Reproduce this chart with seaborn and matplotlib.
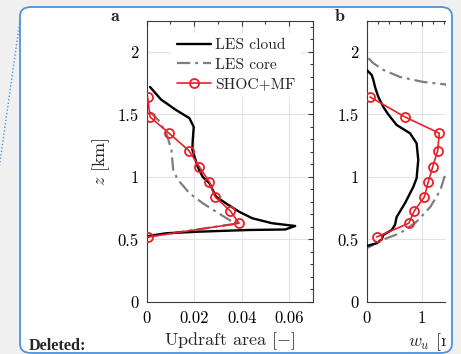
import numpy as np
import pandas as pd
import matplotlib
matplotlib.use("Agg")
import matplotlib.pyplot as plt
import seaborn as sns
from matplotlib.patches import FancyBboxPatch, Rectangle
from matplotlib.lines import Line2D
from matplotlib.ticker import MultipleLocator, FuncFormatter

# ---------------- data ----------------
# panel a: updraft area [-] vs height z [km]
a_cloud_x = [0.0014, 0.006, 0.012, 0.018, 0.0198, 0.0194, 0.0192, 0.0215, 0.0236, 0.0264,
             0.0292, 0.0333, 0.0389, 0.0444, 0.0528, 0.0625, 0.0583, 0.043, 0.022, 0.0083,
             0.0014, 0.0]
a_cloud_z = [1.72, 1.62, 1.54, 1.47, 1.40, 1.30, 1.22, 1.08, 1.00, 0.95,
             0.842, 0.79, 0.722, 0.67, 0.63, 0.608, 0.58, 0.576, 0.5625, 0.55,
             0.53, 0.52]
a_core_x = [0.0014, 0.0049, 0.0083, 0.0104, 0.0112, 0.0132, 0.018, 0.0236, 0.0292, 0.036,
            0.039, 0.0]
a_core_z = [1.52, 1.456, 1.35, 1.216, 1.05, 0.976, 0.87, 0.79, 0.722, 0.642,
            0.63, 0.52]
shoc_z = [1.64, 1.48, 1.35, 1.21, 1.08, 0.96, 0.84, 0.73, 0.63, 0.52]
a_shoc_x = [0.0004, 0.0014, 0.0094, 0.0178, 0.0222, 0.0264, 0.0288, 0.0351, 0.0389, 0.0004]

# panel b: updraft velocity w_u [m s-1] vs height z [km]
b_cloud_x = [0.0, 0.09, 0.12, 0.15, 0.21, 0.30, 0.39, 0.54, 0.78, 0.90, 0.93, 0.90,
             0.84, 0.69, 0.54, 0.51, 0.45, 0.30, 0.27, 0.18, 0.0]
b_cloud_z = [1.856, 1.816, 1.776, 1.72, 1.64, 1.56, 1.50, 1.416, 1.35, 1.27, 1.136, 0.99,
             0.92, 0.79, 0.68, 0.616, 0.576, 0.536, 0.50, 0.47, 0.448]
b_core_x = [0.03, 0.12, 0.30, 0.60, 1.02, 1.43, 1.60, 1.70, 1.65, 1.43, 1.33, 1.15, 0.90,
            0.60, 0.30, 0.0]
b_core_z = [1.95, 1.91, 1.856, 1.80, 1.76, 1.74, 1.60, 1.40, 1.20, 1.04, 0.896, 0.762, 0.642,
            0.55, 0.50, 0.43]
b_shoc_x = [0.06, 0.69, 1.31, 1.28, 1.19, 1.11, 1.04, 0.86, 0.76, 0.18]

labels = ["LES cloud", "LES core", "SHOC+MF"]

# ---------------- style ----------------
sns.set_theme(style="white")
plt.rcParams["font.family"] = ["cmr10"]
plt.rcParams["mathtext.fontset"] = "cm"
plt.rcParams["axes.unicode_minus"] = False
plt.rcParams["axes.formatter.use_mathtext"] = True

W, H = 461, 354
fig = plt.figure(figsize=(W / 100, H / 100), dpi=100)
fig.patch.set_facecolor("#f0f0f0")

def fx(px):
    return px / W

def fy(py):
    return 1 - py / H

# white comment box (background)
box = FancyBboxPatch((fx(20), fy(353)), fx(452) - fx(20), fy(7) - fy(353),
                     boxstyle="round,pad=0,rounding_size=0.025", transform=fig.transFigure,
                     facecolor="white", edgecolor="none", zorder=-5)
fig.add_artist(box)

ax_l, ax_w = 146.7, 166.3
ax_top, ax_bot = 20.7, 302.0
axa = fig.add_axes([fx(ax_l), fy(ax_bot), fx(ax_w), (ax_bot - ax_top) / H])
axb = fig.add_axes([fx(366.7), fy(ax_bot), fx(ax_w), (ax_bot - ax_top) / H])

black = "#000000"
gray = "#7f7f7f"
red = "#e8202a"
FS = 12
fmt = FuncFormatter(lambda v, p: f"{v:g}")

def draw(ax, cx, cz, kx, kz, sx):
    d1 = pd.DataFrame({"x": cx, "z": cz})
    d2 = pd.DataFrame({"x": kx, "z": kz})
    d3 = pd.DataFrame({"x": sx, "z": shoc_z})
    sns.lineplot(data=d1, x="x", y="z", sort=False, estimator=None, ax=ax,
                 color=black, lw=1.7, label=labels[0], zorder=3)
    sns.lineplot(data=d2, x="x", y="z", sort=False, estimator=None, ax=ax,
                 color=gray, lw=1.6, label=labels[1], zorder=2)
    ax.lines[-1].set_dashes([6, 2.2, 1.3, 2.2])
    sns.lineplot(data=d3, x="x", y="z", sort=False, estimator=None, ax=ax,
                 color=red, lw=1.2, marker="o", markersize=6.5, markerfacecolor="none",
                 markeredgecolor=red, markeredgewidth=1.3, label=labels[2], zorder=4)
    ax.set_ylim(0, 2.25)
    ax.yaxis.set_major_locator(MultipleLocator(0.5))
    ax.yaxis.set_minor_locator(MultipleLocator(0.1))
    ax.xaxis.set_major_formatter(fmt)
    ax.yaxis.set_major_formatter(fmt)
    ax.grid(True, which="major", color="#e3e3e3", lw=0.8)
    ax.set_axisbelow(True)
    ax.tick_params(which="both", direction="in", top=True, right=True,
                   colors="#3a3a3a", labelcolor="black", labelsize=FS, width=0.8)
    ax.tick_params(which="major", length=3.5, pad=6)
    ax.tick_params(which="minor", length=2)
    for s in ax.spines.values():
        s.set_color("#3a3a3a")
        s.set_linewidth(0.8)
        s.set_visible(True)

draw(axa, a_cloud_x, a_cloud_z, a_core_x, a_core_z, a_shoc_x)
axa.set_xlim(0, 0.07)
axa.xaxis.set_major_locator(MultipleLocator(0.02))
axa.xaxis.set_minor_locator(MultipleLocator(0.01))
axa.set_xlabel(r"Updraft area $[-]$", fontsize=13, labelpad=3)
axa.set_ylabel(r"$z$ [km]", fontsize=13, labelpad=4)
leg = axa.legend(loc="upper right", bbox_to_anchor=(0.975, 0.985), fontsize=11.2,
                 frameon=True, facecolor="white", edgecolor="none", framealpha=1,
                 handlelength=2.2, handletextpad=0.28, labelspacing=0.38, borderpad=0.35)

draw(axb, b_cloud_x, b_cloud_z, b_core_x, b_core_z, b_shoc_x)
axb.set_xlim(0, 3)
axb.xaxis.set_major_locator(MultipleLocator(1))
axb.xaxis.set_minor_locator(MultipleLocator(0.2))
axb.set_xlabel(r"$w_u$ [m s$^{-1}$]", fontsize=13, labelpad=3)
axb.set_ylabel("")
if axb.get_legend() is not None:
    axb.get_legend().remove()

# panel letters
fig.text(fx(115), fy(21), r"$\mathbf{a}$", fontsize=13, ha="center", va="baseline")
fig.text(fx(340), fy(21), r"$\mathbf{b}$", fontsize=13, ha="center", va="baseline")

# clip right side (content cut off in screenshot)
fig.add_artist(Rectangle((fx(446), fy(350)), fx(452) - fx(446), fy(10) - fy(350),
                         transform=fig.transFigure, facecolor="white", edgecolor="none", zorder=10))
fig.add_artist(Rectangle((fx(452), 0), 1 - fx(452), 1,
                         transform=fig.transFigure, facecolor="#f0f0f0", edgecolor="none", zorder=10))
fig.add_artist(Rectangle((0, 0), 1, fy(353),
                         transform=fig.transFigure, facecolor="#f0f0f0", edgecolor="none", zorder=10))

# border of the comment box
border = FancyBboxPatch((fx(20), fy(353)), fx(452) - fx(20), fy(7) - fy(353),
                        boxstyle="round,pad=0,rounding_size=0.025", transform=fig.transFigure,
                        facecolor="none", edgecolor="#4d94db", lw=1.3, zorder=12)
fig.add_artist(border)

# dotted connector line
fig.add_artist(Line2D([fx(20), fx(-4)], [fy(20), fy(190)], transform=fig.transFigure,
                      color="#4d94db", lw=1.0, ls=(0, (1, 1.5)), zorder=12))

fig.text(fx(29), fy(350), "Deleted:", family=["Liberation Serif"], fontweight="bold",
         fontsize=11.7, ha="left", va="baseline", zorder=13)

fig.savefig("out.png", dpi=100, facecolor=fig.get_facecolor())
